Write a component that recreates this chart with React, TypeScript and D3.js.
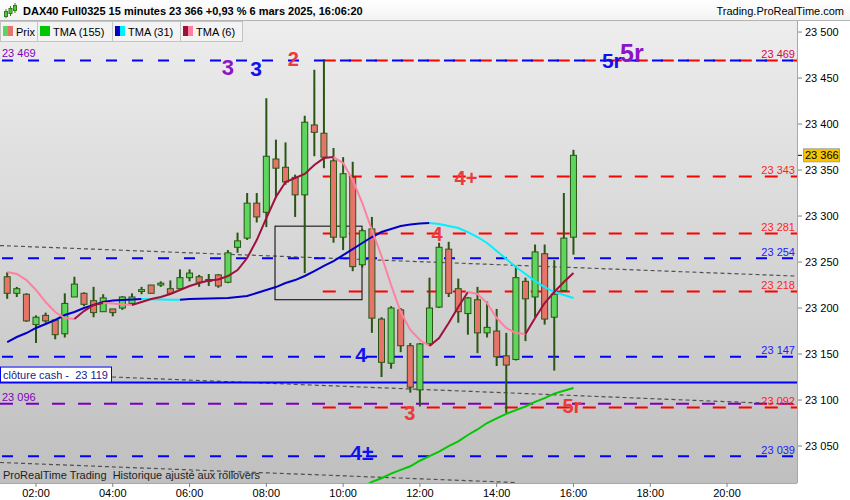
import React from "react";
import * as d3 from "d3";

const W = 850;
const H = 500;

// 15 minute bars, 01:15 -> 16:00
const firstBarHour = 1.25;
const barStep = 0.25;
const opens = [23234, 23216, 23215, 23182, 23192, 23187, 23172, 23212, 23216, 23208, 23196, 23199, 23200, 23205, 23218, 23225, 23225, 23221, 23221, 23233, 23234, 23229, 23236, 23228, 23266, 23276, 23314, 23304, 23362, 23353, 23342, 23323, 23399, 23390, 23360, 23277, 23342, 23247, 23286, 23188, 23140, 23198, 23159, 23111, 23161, 23201, 23264, 23221, 23194, 23209, 23173, 23175, 23148, 23144, 23229, 23212, 23259, 23190, 23219, 23277];
const highs = [23239, 23223, 23216, 23192, 23195, 23188, 23216, 23234, 23217, 23223, 23215, 23199, 23213, 23216, 23223, 23225, 23229, 23230, 23242, 23242, 23236, 23237, 23237, 23263, 23282, 23325, 23325, 23428, 23383, 23380, 23345, 23409, 23459, 23469, 23374, 23364, 23359, 23286, 23299, 23190, 23202, 23200, 23162, 23162, 23233, 23271, 23272, 23232, 23212, 23223, 23207, 23199, 23173, 23246, 23233, 23269, 23269, 23252, 23325, 23372];
const lows = [23210, 23212, 23185, 23162, 23184, 23166, 23168, 23212, 23202, 23190, 23196, 23191, 23198, 23205, 23215, 23216, 23223, 23216, 23221, 23229, 23223, 23224, 23222, 23227, 23260, 23274, 23293, 23288, 23320, 23334, 23299, 23238, 23365, 23352, 23271, 23263, 23240, 23244, 23173, 23125, 23134, 23152, 23108, 23093, 23160, 23200, 23212, 23184, 23171, 23151, 23168, 23137, 23086, 23143, 23164, 23190, 23182, 23132, 23218, 23258];
const closes = [23216, 23221, 23186, 23190, 23186, 23171, 23205, 23226, 23204, 23195, 23211, 23195, 23212, 23212, 23220, 23216, 23227, 23216, 23233, 23238, 23228, 23231, 23224, 23260, 23273, 23314, 23299, 23365, 23352, 23337, 23323, 23402, 23391, 23364, 23277, 23346, 23245, 23284, 23189, 23141, 23200, 23159, 23114, 23161, 23200, 23266, 23216, 23196, 23211, 23173, 23179, 23147, 23138, 23233, 23210, 23261, 23188, 23215, 23276, 23366];

// moving averages (value per bar)
const tma155StartBar = 36;
const tma155 = [23002, 23005, 23011, 23015, 23020, 23024, 23028, 23034, 23039, 23044, 23050, 23055, 23062, 23068, 23075, 23080, 23085, 23089, 23093, 23098, 23102, 23107, 23110, 23113];
const tma31 = [23163.0, 23168.5, 23172.8, 23178.3, 23182.6, 23187.0, 23192.4, 23195.7, 23200.0, 23203.3, 23206.5, 23208.2, 23208.7, 23209.2, 23209.8, 23209.5, 23209.2, 23209.0, 23208.9, 23209.8, 23210.0, 23210.3, 23210.5, 23210.9, 23212.0, 23213.0, 23216.3, 23219.6, 23222.8, 23227.2, 23230.4, 23234.8, 23240.2, 23245.7, 23251.1, 23257.6, 23264.1, 23270.7, 23277.2, 23282.6, 23285.9, 23289.1, 23290.8, 23291.8, 23292.4, 23291.3, 23289.1, 23287.0, 23282.6, 23277.2, 23270.7, 23262.0, 23253.3, 23244.6, 23237.0, 23229.3, 23222.8, 23217.4, 23214.1, 23210.9];
const tma6 = [23239.1, 23237.0, 23230.4, 23219.6, 23206.5, 23195.7, 23189.1, 23188.0, 23196.7, 23203.3, 23205.4, 23204.9, 23203.8, 23203.3, 23206.5, 23209.8, 23212.0, 23215.2, 23219.6, 23223.9, 23227.2, 23229.9, 23231.0, 23234.8, 23241.3, 23254.3, 23273.9, 23297.8, 23320.7, 23337.0, 23341.3, 23345.7, 23355.4, 23363.0, 23364.1, 23357.6, 23339.1, 23314.1, 23284.8, 23256.5, 23225.0, 23195.7, 23176.1, 23165.2, 23158.7, 23167.4, 23183.7, 23201.1, 23217.4, 23215.2, 23205.4, 23189.1, 23178.3, 23172.8, 23171.7, 23189.1, 23205.4, 23217.4, 23228.3, 23238.0];

// horizontal levels
const blueLevels = [23469, 23254, 23147, 23039];
const redLevels = [23469, 23343, 23281, 23218, 23092];
const redLevelsFromHour = 9.47;
const purpleLevel = 23096;
const clotureCash = 23119;
const lastPrice = 23366;

// dotted trend lines [hour, price] pairs
const trendUpper = [[1.25, 23267.6], [16, 23244.0]];
const trendLower = [[1.25, 23129.6], [16, 23104.9]];
const trendBottom = [[1.25, 23031.8], [14.5, 23010.3]];
const trendBottomEnd = 14.5;

// box drawn on the chart
const boxHours = [8.226, 10.492];
const boxPrices = [23289, 23209];

// wave labels
const waveTexts = ["3", "3", "2", "5r", "5r", "4+", "4", "4", "3", "5r", "4±"];
const waveHours = [7.0, 7.73, 8.7, 17.0, 17.52, 13.2, 12.45, 10.47, 11.74, 15.96, 10.49];
const wavePrices = [23453, 23452, 23463, 23461, 23467, 23334, 23273, 23141, 23078, 23086, 23035];
const waveKinds = ["purple", "blue", "red", "blue", "purple", "red", "red", "blue", "red", "red", "blue"];

const xTicks = [2, 4, 6, 8, 10, 12, 14, 16, 18, 20];
const yTicks = [23050, 23100, 23150, 23200, 23250, 23300, 23350, 23400, 23450, 23500];

const FONT = "'Liberation Sans', Arial, sans-serif";
const plot = { left: 0, right: 797, top: 21, bottom: 483 };

const fmt = d3.formatLocale({ decimal: ",", thousands: " ", grouping: [3], currency: ["", ""] }).format(",d");

const waveColor: Record<string, string> = { purple: "#8c14c8", blue: "#1010f0", red: "#ec3a3a" };
const waveSize: Record<string, number> = { purple: 22, blue: 21, red: 20 };

function runs(values: number[], start: number) {
  const out: { up: boolean; pts: [number, number][] }[] = [];
  for (let i = 1; i < values.length; i++) {
    const up = values[i] >= values[i - 1];
    const a: [number, number] = [start + i - 1, values[i - 1]];
    const b: [number, number] = [start + i, values[i]];
    const last = out[out.length - 1];
    if (last && last.up === up) last.pts.push(b);
    else out.push({ up, pts: [a, b] });
  }
  return out;
}

export default function App() {
  const x = d3.scaleLinear().domain([1.0623, 21.823]).range([plot.left, plot.right]);
  const y = d3.scaleLinear().domain([23009.8, 23512]).range([plot.bottom, plot.top]);
  const barX = (i: number) => x(firstBarHour + i * barStep);
  const line = d3
    .line<[number, number]>()
    .x((d) => barX(d[0]))
    .y((d) => y(d[1]));

  const trendPath = (t: number[][], endHour?: number) => {
    const [[h1, p1], [h2, p2]] = t;
    const s = (p2 - p1) / (h2 - h1);
    const a = x.domain()[0];
    const b = endHour ?? x.domain()[1];
    return `M${x(a)},${y(p1 + (a - h1) * s)}L${x(b)},${y(p1 + (b - h1) * s)}`;
  };

  const green = "#5cd65c";
  const red = "#e6746b";
  const wick = "#2b5514";

  const rightLabelColor = (p: number) =>
    p === 23469 ? "#dc0050" : redLevels.includes(p) ? "#ff1e1e" : "#2020ff";
  const rightLabels = Array.from(new Set([...blueLevels, ...redLevels]));

  return (
    <div style={{ position: "absolute", left: 0, top: 0 }}>
      <svg width={W} height={H} style={{ display: "block", fontFamily: FONT }}>
        <defs>
          <linearGradient id="bg" x1="0" y1="0" x2="0" y2="1">
            <stop offset="0" stopColor="#ededed" />
            <stop offset="1" stopColor="#bfbfbf" />
          </linearGradient>
          <linearGradient id="hdr" x1="0" y1="0" x2="0" y2="1">
            <stop offset="0" stopColor="#ffffff" />
            <stop offset="1" stopColor="#f2f2f2" />
          </linearGradient>
          <clipPath id="clip">
            <rect x={plot.left} y={plot.top} width={plot.right - plot.left} height={plot.bottom - plot.top} />
          </clipPath>
        </defs>

        <rect x={0} y={0} width={W} height={H} fill="#ffffff" />
        <rect x={0} y={0} width={W} height={plot.top} fill="url(#hdr)" />
        <line x1={0} x2={W} y1={plot.top - 0.5} y2={plot.top - 0.5} stroke="#b4b4b4" />
        <rect x={plot.left} y={plot.top} width={plot.right - plot.left} height={plot.bottom - plot.top} fill="url(#bg)" />

        {/* header */}
        <g stroke="#3a7a1a" strokeWidth={1}>
          <line x1={6} x2={6} y1={9} y2={18} />
          <rect x={4.5} y={11.5} width={3} height={5} fill="#4ccc3c" />
          <line x1={10.5} x2={10.5} y1={6} y2={16} />
          <rect x={9} y={8.5} width={3} height={5} fill="#4ccc3c" />
          <line x1={15} x2={15} y1={3} y2={13} />
          <rect x={13.5} y={5.5} width={3} height={5} fill="#4ccc3c" />
        </g>
        <text x={23} y={15} fontSize={11} fontWeight="bold" fill="#000">
          DAX40 Full0325 15 minutes 23 366 +0,93 % 6 mars 2025, 16:06:20
        </text>
        <text x={844} y={15} fontSize={11} textAnchor="end" fill="#000">
          Trading.ProRealTime.com
        </text>

        <g clipPath="url(#clip)">
          {/* dotted trend lines */}
          <g fill="none" stroke="#3c3c3c" strokeWidth={1.2} strokeDasharray="4,3" opacity={0.85}>
            <path d={trendPath(trendUpper)} />
            <path d={trendPath(trendLower)} />
            <path d={trendPath(trendBottom, trendBottomEnd)} />
          </g>

          {/* levels */}
          <line x1={plot.left} x2={plot.right} y1={y(purpleLevel)} y2={y(purpleLevel)} stroke="#7a00c0" strokeWidth={2} strokeDasharray="13,13" />
          {redLevels.map((p) => (
            <line key={"r" + p} x1={x(redLevelsFromHour)} x2={plot.right} y1={y(p)} y2={y(p)} stroke="#ff0000" strokeWidth={2} strokeDasharray="13,13" />
          ))}
          {blueLevels.map((p) => (
            <line key={"b" + p} x1={plot.left} x2={plot.right} y1={y(p)} y2={y(p)} stroke="#0000ff" strokeWidth={2} strokeDasharray="11,15" strokeDashoffset={-2} />
          ))}
          <line x1={plot.left} x2={plot.right} y1={y(clotureCash)} y2={y(clotureCash)} stroke="#0000ff" strokeWidth={2} />

          {/* box */}
          <rect
            x={x(boxHours[0])}
            y={y(boxPrices[0])}
            width={x(boxHours[1]) - x(boxHours[0])}
            height={y(boxPrices[1]) - y(boxPrices[0])}
            fill="none"
            stroke="#000"
            strokeWidth={1}
          />

          {/* candles */}
          {opens.map((o, i) => {
            const c = closes[i];
            const cx = barX(i);
            const top = y(Math.max(o, c));
            const bot = y(Math.min(o, c));
            return (
              <g key={i}>
                <line x1={cx} x2={cx} y1={y(highs[i])} y2={y(lows[i])} stroke={wick} strokeWidth={2} />
                <rect x={cx - 3} y={top} width={6} height={Math.max(bot - top, 1.5)} fill={c >= o ? green : red} stroke={wick} strokeWidth={1} />
              </g>
            );
          })}

          {/* moving averages */}
          <path d={line(tma155.map((v, i) => [tma155StartBar + i, v]))!} fill="none" stroke="#00c800" strokeWidth={2} />
          {runs(tma31, 0).map((r, k) => (
            <path key={"t31" + k} d={line(r.pts)!} fill="none" stroke={r.up ? "#0000c8" : "#00f0ff"} strokeWidth={2} />
          ))}
          {runs(tma6, 0).map((r, k) => (
            <path key={"t6" + k} d={line(r.pts)!} fill="none" stroke={r.up ? "#a0103c" : "#ff80a0"} strokeWidth={2} />
          ))}

          {/* wave labels */}
          {waveTexts.map((t, i) => (
            <text
              key={"w" + i}
              x={x(waveHours[i])}
              y={y(wavePrices[i])}
              textAnchor="middle"
              fontSize={waveKinds[i] === "purple" && t === "5r" ? 25 : waveSize[waveKinds[i]]}
              fontWeight="bold"
              fill={waveColor[waveKinds[i]]}
            >
              {t}
            </text>
          ))}

          {/* level labels */}
          {rightLabels.map((p) => (
            <text key={"l" + p} x={795} y={y(p) - 2.5} fontSize={11} textAnchor="end" fill={rightLabelColor(p)}>
              {fmt(p)}
            </text>
          ))}
          <text x={2} y={y(23469) - 3.5} fontSize={11} fill="#8000c0">{fmt(23469)}</text>
          <text x={2} y={y(purpleLevel) - 3} fontSize={11} fill="#8000c0">{fmt(purpleLevel)}</text>

          <rect x={0.5} y={y(clotureCash) - 15.5} width={111} height={15} fill="#fff" stroke="#0000ff" strokeWidth={1} />
          <text x={3} y={y(clotureCash) - 4} fontSize={11} fill="#1a1a8c" style={{ whiteSpace: "pre" }}>
            {"clôture cash -  " + fmt(clotureCash)}
          </text>

          <text x={3} y={479} fontSize={11} fill="#1e1e1e" style={{ whiteSpace: "pre" }}>
            {"ProRealTime Trading  Historique ajusté aux rollovers"}
          </text>
        </g>

        {/* legend */}
        {[
          { x: 0, w: 37, label: "Prix", c1: "#5cd65c", c2: "#e6746b" },
          { x: 37, w: 75, label: "TMA (155)", c1: "#00c800", c2: "#00c800" },
          { x: 112, w: 68, label: "TMA (31)", c1: "#0000c8", c2: "#00f0ff" },
          { x: 180, w: 62, label: "TMA (6)", c1: "#a0103c", c2: "#ff80a0" },
        ].map((b) => (
          <g key={b.label}>
            <rect x={b.x + 0.5} y={21.5} width={b.w} height={20} fill="#f3f3f3" stroke="#c4c4c4" />
            <rect x={b.x + 3} y={26} width={5} height={10} fill={b.c1} />
            <rect x={b.x + 8} y={26} width={5} height={10} fill={b.c2} />
            <text x={b.x + 16} y={35.5} fontSize={11} fill="#000">
              {b.label}
            </text>
          </g>
        ))}

        {/* right axis */}
        <line x1={plot.right + 0.5} x2={plot.right + 0.5} y1={plot.top} y2={plot.bottom} stroke="#a8a8a8" />
        {yTicks.map((t) => (
          <g key={"yt" + t}>
            <line x1={plot.right + 1} x2={plot.right + 5} y1={y(t)} y2={y(t)} stroke="#808080" />
            <text x={805} y={y(t) + 4} fontSize={11} fill="#000">
              {fmt(t)}
            </text>
          </g>
        ))}
        <line x1={plot.right + 1} x2={plot.right + 5} y1={y(lastPrice)} y2={y(lastPrice)} stroke="#000" />
        <rect x={803.5} y={y(lastPrice) - 6.5} width={36} height={13} fill="#f7c600" stroke="#a0a0a0" />
        <text x={805} y={y(lastPrice) + 4} fontSize={11} fill="#000">
          {fmt(lastPrice)}
        </text>

        {/* bottom axis */}
        <line x1={0} x2={plot.right} y1={plot.bottom + 0.5} y2={plot.bottom + 0.5} stroke="#a8a8a8" />
        {xTicks.map((h) => (
          <g key={"xt" + h}>
            <line x1={x(h)} x2={x(h)} y1={plot.bottom} y2={plot.bottom + 4} stroke="#808080" />
            <text x={x(h)} y={497} fontSize={11} textAnchor="middle" fill="#000">
              {String(h).padStart(2, "0") + ":00"}
            </text>
          </g>
        ))}
      </svg>
    </div>
  );
}
